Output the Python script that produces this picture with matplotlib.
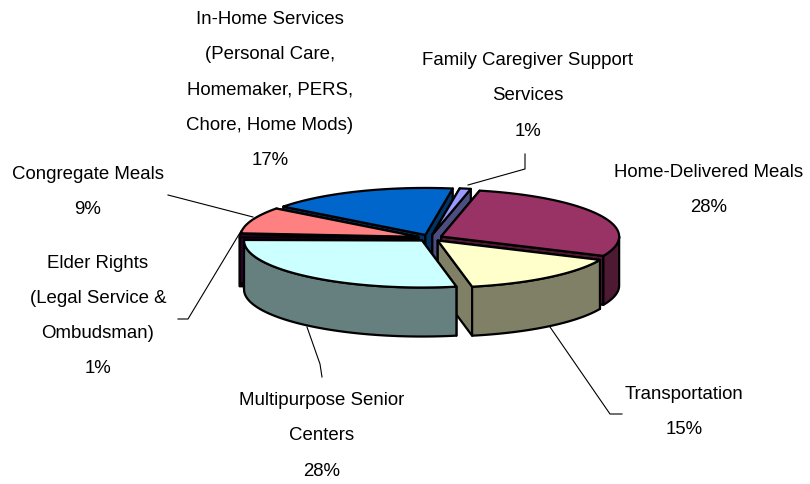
import numpy as np
import matplotlib
matplotlib.use("Agg")
import matplotlib.pyplot as plt

# Data
categories = [
    "Home-Delivered Meals",
    "Transportation",
    "Multipurpose Senior\nCenters",
    "Elder Rights\n(Legal Service &\nOmbudsman)",
    "Congregate Meals",
    "In-Home Services\n(Personal Care,\nHomemaker, PERS,\nChore, Home Mods)",
    "Family Caregiver Support\nServices",
]
percents = [28, 15, 28, 1, 9, 17, 1]
top_colors = ["#993366", "#FFFFCC", "#CCFFFF", "#660066", "#FF8080", "#0066CC", "#9999FF"]
side_colors = ["#4D1933", "#808066", "#668080", "#330033", "#804040", "#003366", "#4D4D80"]

# Layout (pixels of the 810x485 picture)
cx, cy = 430, 239
rx, ry = 178, 47
depth = 49
explode = 0.07
start = 12.5
draw_order = [5, 6, 4, 0, 3, 1, 2]
label_pos = [(709, 190), (684, 412), (322, 436), (98, 316), (88, 192), (270, 90), (528, 96)]
leaders = [
    [(525, 155), (525, 170), (468, 186)],
    [(168, 196), (253, 218)],
    [(178, 320), (188, 320), (241, 232)],
    [(322, 378), (320, 365), (307, 328)],
    [(622, 415), (610, 415), (550, 328)],
]

fig = plt.figure(figsize=(8.1, 4.85), dpi=100)
ax = fig.add_axes([0, 0, 1, 1])
ax.set_xlim(0, 810)
ax.set_ylim(485, 0)
ax.axis("off")

edges = start + np.cumsum([0] + percents) / sum(percents) * 360


def project(theta, ox, oy):
    t = np.radians(theta)
    return ox + rx * np.sin(t), oy - ry * np.cos(t)


def face(xs, ys, color, z):
    ax.fill(xs, ys, facecolor=color, edgecolor="black", linewidth=1.6,
            joinstyle="round", zorder=z)


for n, i in enumerate(draw_order):
    a0, a1 = edges[i], edges[i + 1]
    mid = np.radians((a0 + a1) / 2)
    ox = cx + explode * rx * np.sin(mid)
    oy = cy - explode * ry * np.cos(mid)
    z = 2 + n

    # cut walls
    for a in (a0, a1):
        ex, ey = project(a, ox, oy)
        face([ox, ex, ex, ox], [oy, ey, ey + depth, oy + depth], side_colors[i], z)

    # outer wall, front half only
    lo, hi = max(a0, 90), min(a1, 270)
    if hi > lo:
        arc = np.linspace(lo, hi, 60)
        ax_x, ax_y = project(arc, ox, oy)
        face(np.r_[ax_x, ax_x[::-1]], np.r_[ax_y, ax_y[::-1] + depth], side_colors[i], z)

    # top
    arc = np.linspace(a0, a1, 100)
    tx, ty = project(arc, ox, oy)
    face(np.r_[ox, tx], np.r_[oy, ty], top_colors[i], z + 0.5)

for pts in leaders:
    xs, ys = zip(*pts)
    ax.plot(xs, ys, color="black", linewidth=0.8, zorder=20)

for name, pct, (lx, ly) in zip(categories, percents, label_pos):
    ax.text(lx, ly, f"{name}\n{pct}%", ha="center", va="center", fontsize=13.4,
            family="Liberation Sans", linespacing=2.4, color="black", zorder=21)

fig.savefig("out.png", dpi=100)
